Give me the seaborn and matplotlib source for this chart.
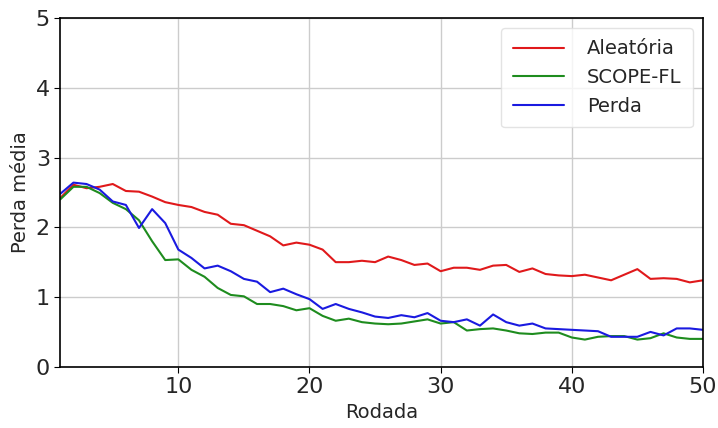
import numpy as np
import pandas as pd
import matplotlib
matplotlib.use("Agg")
import matplotlib.pyplot as plt
import seaborn as sns

rodadas = list(range(1, 51))

aleatoria = [2.42, 2.61, 2.56, 2.58, 2.62, 2.52, 2.51, 2.44, 2.36, 2.32,
             2.29, 2.22, 2.18, 2.05, 2.03, 1.95, 1.87, 1.74, 1.78, 1.75,
             1.68, 1.50, 1.50, 1.52, 1.50, 1.58, 1.53, 1.46, 1.48, 1.37,
             1.42, 1.42, 1.39, 1.45, 1.46, 1.36, 1.41, 1.33, 1.31, 1.30,
             1.32, 1.28, 1.24, 1.32, 1.40, 1.26, 1.27, 1.26, 1.21, 1.24]

scope_fl = [2.40, 2.58, 2.58, 2.49, 2.35, 2.26, 2.10, 1.80, 1.53, 1.54,
            1.39, 1.29, 1.13, 1.03, 1.01, 0.90, 0.90, 0.87, 0.81, 0.84,
            0.73, 0.66, 0.69, 0.64, 0.62, 0.61, 0.62, 0.65, 0.68, 0.62,
            0.64, 0.52, 0.54, 0.55, 0.52, 0.48, 0.47, 0.49, 0.49, 0.42,
            0.39, 0.43, 0.44, 0.44, 0.39, 0.41, 0.48, 0.42, 0.40, 0.40]

perda = [2.48, 2.64, 2.62, 2.54, 2.37, 2.32, 1.99, 2.26, 2.06, 1.68,
         1.56, 1.41, 1.45, 1.37, 1.26, 1.22, 1.07, 1.12, 1.04, 0.97,
         0.83, 0.90, 0.83, 0.78, 0.72, 0.70, 0.74, 0.71, 0.77, 0.66,
         0.64, 0.68, 0.59, 0.75, 0.64, 0.59, 0.62, 0.55, 0.54, 0.53,
         0.52, 0.51, 0.43, 0.43, 0.43, 0.50, 0.45, 0.55, 0.55, 0.53]

df = pd.DataFrame({
    "Rodada": rodadas * 3,
    "Perda": aleatoria + scope_fl + perda,
    "Método": ["Aleatória"] * 50 + ["SCOPE-FL"] * 50 + ["Perda"] * 50,
})

sns.set_style("whitegrid")
plt.rcParams["font.family"] = ["DejaVu Sans"]

fig, ax = plt.subplots(figsize=(7.18, 4.28), dpi=100)
fig.subplots_adjust(left=0.084, right=0.979, top=0.958, bottom=0.143)

sns.lineplot(data=df, x="Rodada", y="Perda", hue="Método",
             palette={"Aleatória": "#e0191b", "SCOPE-FL": "#1e8c1e", "Perda": "#1a1ae0"},
             linewidth=1.5, ax=ax)

ax.set_xlim(1, 50)
ax.set_ylim(0, 5)
ax.set_xticks([10, 20, 30, 40, 50])
ax.set_yticks([0, 1, 2, 3, 4, 5])
ax.tick_params(axis="both", labelsize=16, length=4, color="black", left=True, bottom=True)
ax.set_xlabel("Rodada", fontsize=14)
ax.set_ylabel("Perda média", fontsize=14)
ax.grid(True, color="#cccccc", linewidth=1)
for s in ax.spines.values():
    s.set_color("black")
    s.set_linewidth(1.2)

leg = ax.legend(loc="upper right", fontsize=14, handlelength=2.6,
                handletextpad=1.2, borderpad=0.6, labelspacing=0.5, frameon=True)
leg.get_frame().set_edgecolor("#dddddd")

fig.savefig("out.png", dpi=100)
